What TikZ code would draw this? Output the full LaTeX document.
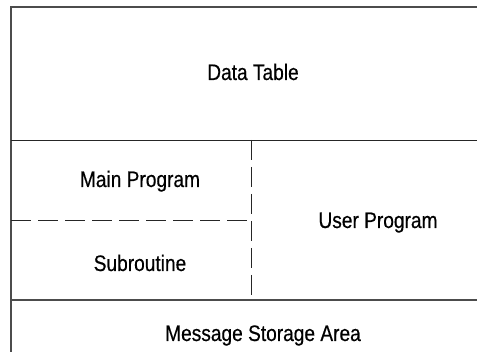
\documentclass[tikz,border=0pt]{standalone}
\usepackage{fontspec}
\setmainfont{Liberation Sans}[FakeStretch=0.85,FakeBold=0.4]
\usepackage{tikz}
\usetikzlibrary{positioning}
\tikzset{
  % Outer frame
  FR/.style={line width=1.3pt,draw=black!70},
  % Solid partition
  PS/.style={line width=0.9pt,draw=black!85},
  % Dashed partition
  PD/.style={line width=0.9pt,draw=black!85,dash pattern=on 20pt off 7pt},
  % Label
  LB/.style={anchor=base,inner sep=0pt,font=\fontsize{22.5}{26}\selectfont}
}
\begin{document}
\begin{tikzpicture}[x=1pt,y=-1pt]
  \useasboundingbox (0,0) rectangle (477,352);
  \coordinate (tl) at (11,7);
  \coordinate (tr) at (477,7);
  \coordinate (bl) at (11,352);
  \coordinate (ml) at (11,140);
  \coordinate (mr) at (477,140);
  \coordinate (nl) at (11,300);
  \coordinate (nr) at (477,300);
  \coordinate (vt) at (251,140);
  \coordinate (vb) at (251,300);
  \coordinate (hl) at (11,220);
  \coordinate (hr) at (251,220);

  \draw[FR] (bl) -- (tl) -- (tr);
  \draw[PS] (ml) -- (mr);
  \draw[FR] (nl) -- (nr);
  \draw[PD] (vt) -- (vb);
  \draw[PD] (hl) -- (hr);

  \node[LB] (data) at (253,80) {Data Table};
  \node[LB] (main) at (140,187) {Main Program};
  \node[LB] (sub) at (140,271) {Subroutine};
  \node[LB] (user) at (378,228) {User Program};
  \node[LB] (msg) at (263,341) {Message Storage Area};
\end{tikzpicture}
\end{document}
